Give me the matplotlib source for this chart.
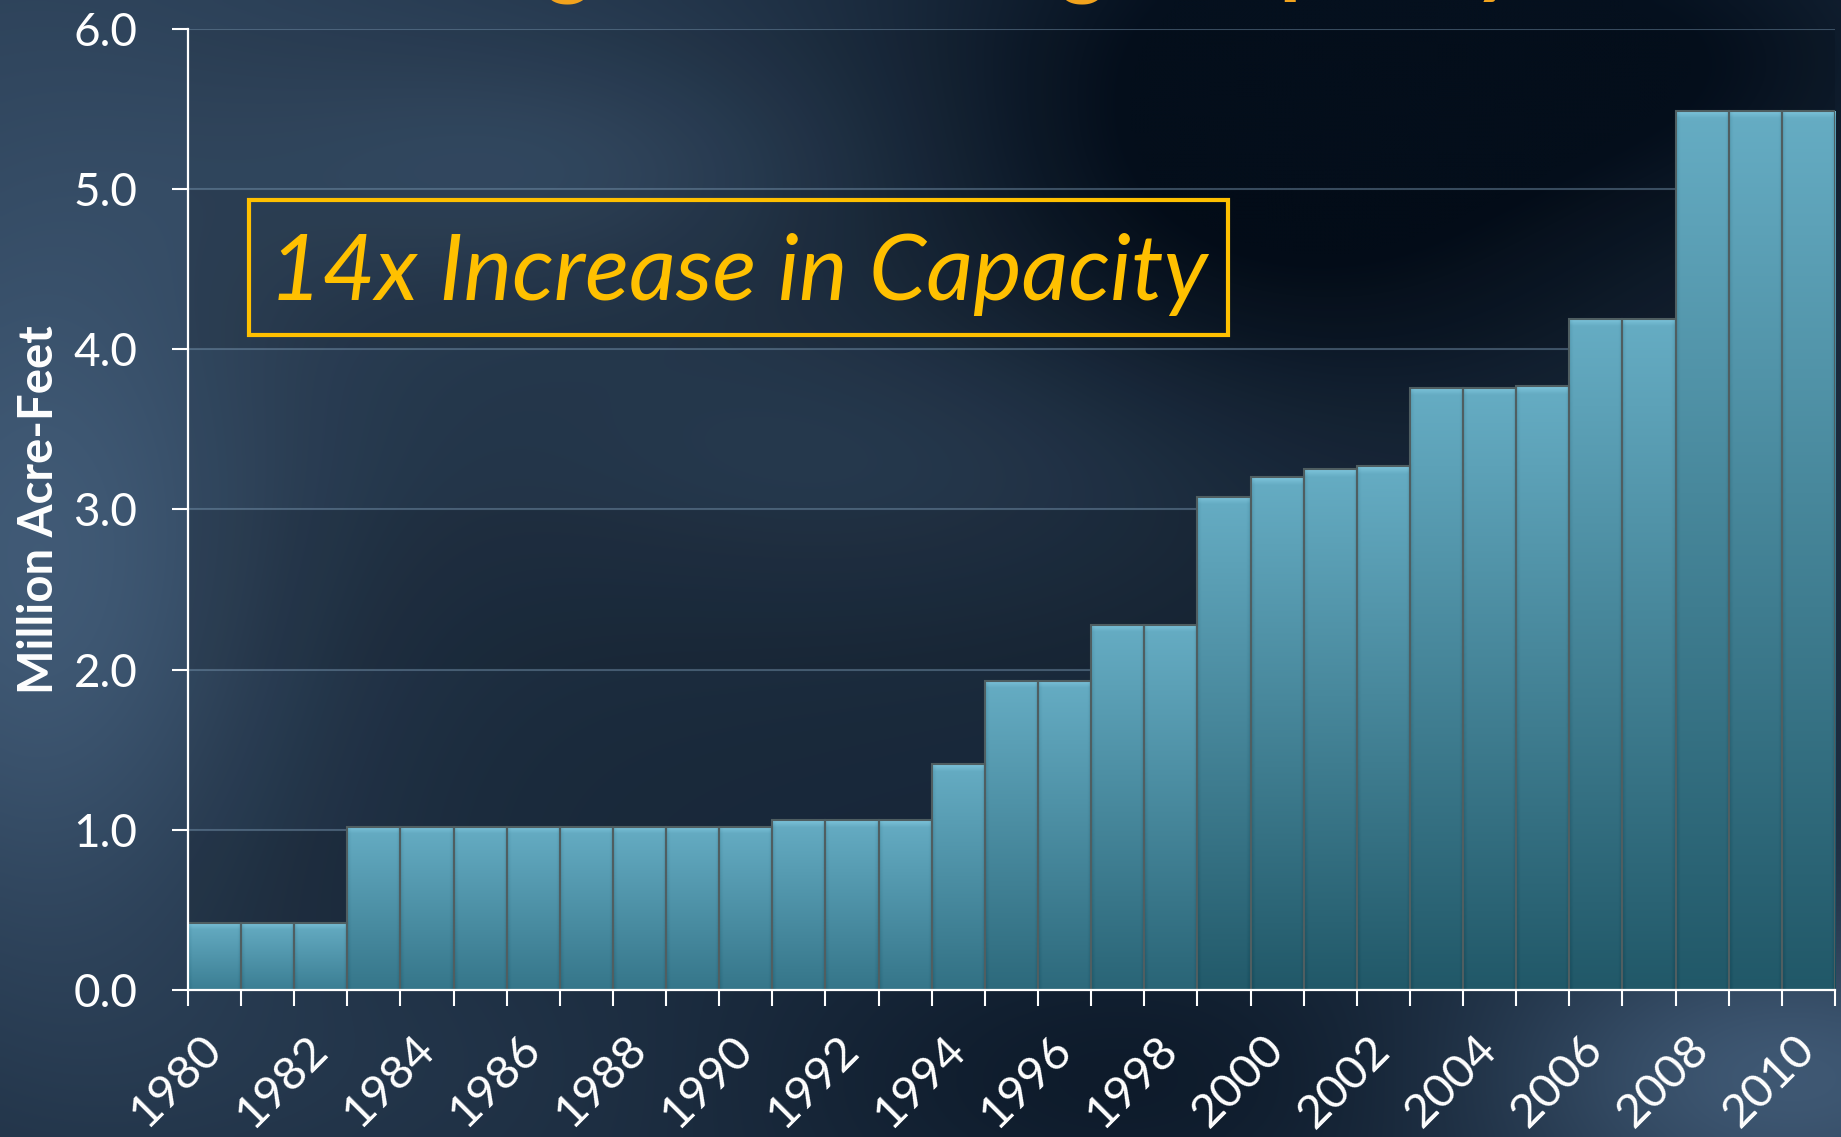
import numpy as np
import matplotlib
matplotlib.use("Agg")
import matplotlib.pyplot as plt
from matplotlib import patches
from matplotlib.colors import to_rgb

years = list(range(1980, 2011))
capacity = [
    0.42, 0.42, 0.42,
    1.02, 1.02, 1.02, 1.02, 1.02, 1.02, 1.02, 1.02,
    1.06, 1.06, 1.06,
    1.41,
    1.93, 1.93,
    2.28, 2.28,
    3.08, 3.20, 3.25, 3.27,
    3.76, 3.76, 3.77,
    4.19, 4.19,
    5.49, 5.49, 5.49,
]
tick_years = years[::2]
y_ticks = [0, 1, 2, 3, 4, 5, 6]
y_label = "Million Acre-Feet"
callout = "14x Increase in Capacity"
title = "Underground Storage Capacity"

plt.rcParams["font.family"] = ["Lato", "DejaVu Sans"]


def _background(w=460, h=284):
    # smooth dark-blue "sky" built from a few soft blobs
    gx, gy = np.meshgrid(np.linspace(0, 1, w), np.linspace(0, 1, h))
    light = np.full_like(gx, 0.36)
    blobs = [  # cx, cy, sx, sy, amount
        (0.00, 0.05, 0.28, 0.35, 0.28),
        (0.02, 0.55, 0.10, 0.25, 0.50),
        (0.30, 0.15, 0.12, 0.08, 0.28),
        (0.50, 0.40, 0.16, 0.10, 0.22),
        (0.70, 0.10, 0.13, 0.18, -0.50),
        (0.92, 0.05, 0.10, 0.10, -0.25),
        (0.97, 0.95, 0.12, 0.10, 0.60),
        (0.62, 0.95, 0.15, 0.10, -0.22),
        (0.20, 0.95, 0.15, 0.10, 0.10),
    ]
    for cx, cy, sx, sy, amount in blobs:
        light += amount * np.exp(-((gx - cx) ** 2 / (2 * sx ** 2) + (gy - cy) ** 2 / (2 * sy ** 2)))
    light = np.clip(light, 0, 1)
    dark = np.array([5, 16, 30]) / 255
    bright = np.array([66, 92, 120]) / 255
    return dark + light[..., None] * (bright - dark)


fig = plt.figure(figsize=(18.41, 11.37), dpi=100)
bg_ax = fig.add_axes([0, 0, 1, 1], zorder=-1)
bg_ax.imshow(_background(), aspect="auto", extent=[0, 1, 0, 1], interpolation="bicubic")
bg_ax.axis("off")

ax = fig.add_axes([0.1021, 0.1293, 0.8946, 0.8452])
ax.patch.set_facecolor((0, 0, 0, 0.08))

x = np.arange(len(years))
bars = ax.bar(x, capacity, width=1.0, facecolor="none", edgecolor="#4f5e61", linewidth=1.5, zorder=3)

top_rgb = np.array(to_rgb("#66adc4"))
low_short = np.array(to_rgb("#3b7e93"))
low_tall = np.array(to_rgb("#215868"))
across = np.linspace(0, 1, 60)
side_shade = 0.05 * np.clip(1 - np.minimum(across, 1 - across) / 0.08, 0, 1)
for patch, value in zip(bars, capacity):
    t = min(max((value - 0.4) / 2.8, 0), 1)
    bottom_rgb = low_short + (low_tall - low_short) * t
    depth = np.linspace(0, value, 400)
    cols = top_rgb + (bottom_rgb - top_rgb) * (depth / value)[:, None]
    cols = cols + (np.clip(1 - depth / 0.045, 0, 1) * 0.09)[:, None]
    img = cols[:, None, :] - side_shade[None, :, None]
    x0 = patch.get_x()
    im = ax.imshow(np.clip(img, 0, 1), extent=[x0, x0 + 1, 0, value], aspect="auto",
                   interpolation="bilinear", zorder=2)
    im.set_clip_path(patch)

for lo in (0, 2, 4):
    ax.axhspan(lo, lo + 1, color="black", alpha=0.10, lw=0, zorder=0.2)

ax.set_xlim(-0.5, len(years) - 0.5)
ax.set_ylim(0, 6)
ax.set_yticks(y_ticks, labels=[f"{v:.1f}" for v in y_ticks])
ax.yaxis.grid(True, color="#7896b0", alpha=0.45, lw=1.5, zorder=0.5)
ax.set_axisbelow(True)

ax.set_xticks(np.arange(-0.5, len(years), 1), minor=True)
ax.set_xticks([years.index(yr) for yr in tick_years], labels=[str(yr) for yr in tick_years],
              rotation=45, ha="right", va="center", rotation_mode="anchor")
ax.tick_params(axis="x", which="minor", length=11.5, width=1.5, color="white", direction="out")
ax.tick_params(axis="x", which="major", length=0, pad=38, labelsize=34, labelcolor="white")
ax.tick_params(axis="y", length=11.5, width=1.5, color="white", pad=25, labelsize=33, labelcolor="white")

for side in ("top", "right"):
    ax.spines[side].set_visible(False)
for side in ("left", "bottom"):
    ax.spines[side].set_color("white")
    ax.spines[side].set_linewidth(1.6)
    ax.spines[side].set_zorder(5)

ax.set_ylabel(y_label, color="white", fontsize=34, fontweight="bold", va="center")
ax.yaxis.set_label_coords(-0.0905, 0.5)

ax.add_patch(patches.Rectangle((0.037, 0.6816), 0.5945, 0.1404, transform=ax.transAxes,
                               fill=False, edgecolor="#ffc000", lw=3, zorder=6))
ax.text(0.334, 0.718, callout, transform=ax.transAxes, ha="center", va="baseline",
        fontsize=66, style="italic", color="#ffc000", zorder=6)

# the slide title sits above the frame: only its descenders show
fig.text(0.494, 1.0 + 14 / 1137, title, ha="center", va="baseline", fontsize=64,
         fontweight="bold", color="#f2a31d")

fig.savefig("out.png", dpi=100)
